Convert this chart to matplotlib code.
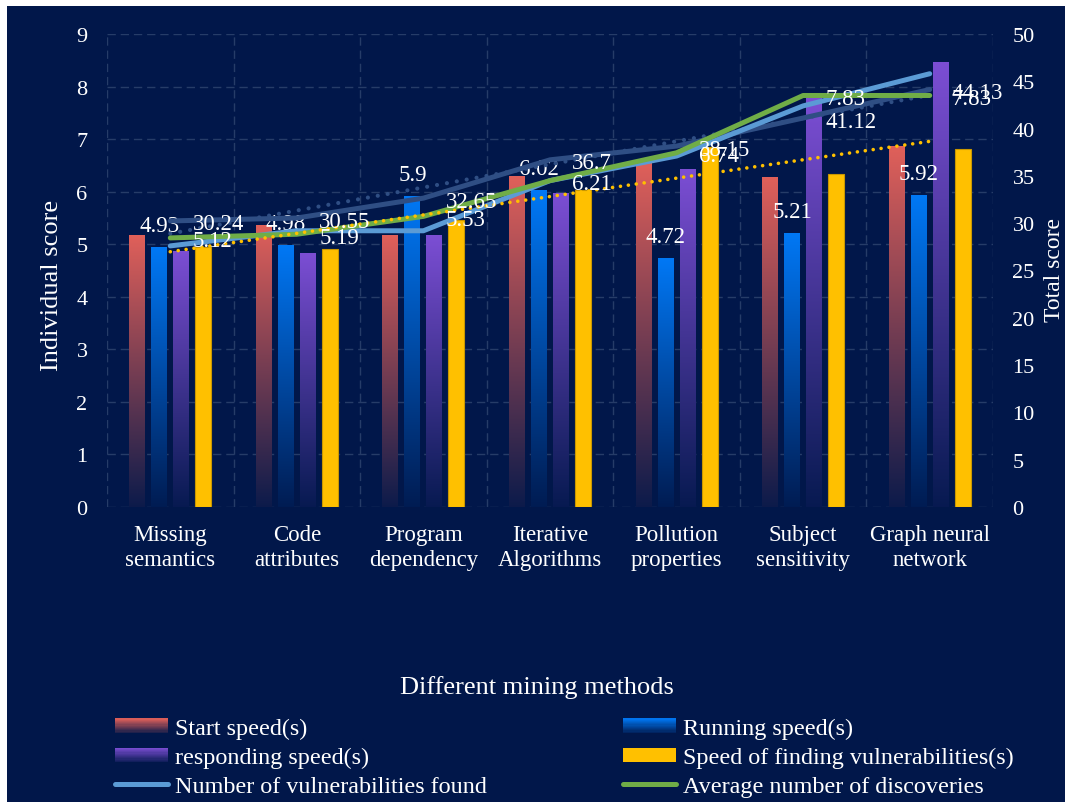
import numpy as np
import matplotlib
matplotlib.use("Agg")
import matplotlib.pyplot as plt
from matplotlib.colors import LinearSegmentedColormap, to_rgb
from matplotlib.legend_handler import HandlerBase
from matplotlib.patches import Rectangle, Patch
from matplotlib.lines import Line2D

plt.rcParams["font.family"] = ["Liberation Serif", "DejaVu Serif"]

categories = ["Missing\nsemantics", "Code\nattributes", "Program\ndependency",
              "Iterative\nAlgorithms", "Pollution\nproperties", "Subject\nsensitivity",
              "Graph neural\nnetwork"]
start_speed = [5.16, 5.36, 5.17, 6.28, 6.56, 6.27, 6.86]
running_speed = [4.93, 4.98, 5.9, 6.02, 4.72, 5.21, 5.92]
responding_speed = [4.86, 4.83, 5.17, 5.96, 6.43, 7.78, 8.45]
finding_speed = [4.95, 4.91, 5.47, 6.03, 6.85, 6.33, 6.81]
# line series: vulnerabilities found and total score use the right axis,
# average number of discoveries uses the left axis
vulns_found = [27.6, 29.2, 29.2, 34.5, 37.1, 42.4, 45.8]
avg_discoveries = [5.12, 5.19, 5.53, 6.21, 6.74, 7.83, 7.83]
total_score = [30.24, 30.55, 32.65, 36.7, 38.15, 41.12, 44.13]

BG = "#01174A"
RED = "#E0605A"
BLUE = "#0078F5"
PURPLE = "#7C4ED4"
YELLOW = "#FFC000"
LIGHT_BLUE = "#5B9BD5"
GREEN = "#70AD47"
DARK = "#2F4E84"
GRID = "#263C68"


def mix(c1, c2, f):
    a, b = np.array(to_rgb(c1)), np.array(to_rgb(c2))
    return tuple(a + (b - a) * f)


class GradientHandler(HandlerBase):
    """Legend box that fades from the series colour to the background."""

    def __init__(self, color, steps=12):
        super().__init__()
        self.color = color
        self.steps = steps

    def create_artists(self, legend, orig_handle, xdescent, ydescent,
                       width, height, fontsize, trans):
        arts = []
        for k in range(self.steps):
            f = (k + 0.5) / self.steps
            c = mix(BG, self.color, 0.1 + 0.9 * f)
            r = Rectangle((-xdescent, -ydescent + height * k / self.steps),
                          width, height / self.steps, facecolor=c,
                          edgecolor="none", antialiased=False, transform=trans)
            arts.append(r)
        return arts


fig = plt.figure(figsize=(10.65, 8.03), dpi=100, facecolor="white")
fig.add_artist(Rectangle((7 / 1065, 0), 1, 1 - 7 / 803, transform=fig.transFigure,
                         facecolor=BG, edgecolor="none", zorder=-10))

ax = fig.add_axes([107 / 1065, 1 - 508 / 803, 886 / 1065, 473 / 803])
ax.set_facecolor("none")
ax2 = ax.twinx()

x = np.arange(len(categories))
width = 0.126
step = 0.174
grad = np.linspace(0, 1, 256).reshape(-1, 1)

bar_series = [(start_speed, RED), (running_speed, BLUE),
              (responding_speed, PURPLE), (finding_speed, YELLOW)]
for i, (vals, col) in enumerate(bar_series):
    pos = x + (i - 1.5) * step
    if col == YELLOW:
        ax.bar(pos, vals, width, color=YELLOW, edgecolor="#C99700", linewidth=0.8, zorder=2)
        continue
    bars = ax.bar(pos, vals, width, color="none", zorder=2)
    cmap = LinearSegmentedColormap.from_list("fade", [mix(BG, col, 0.05), col])
    for rect in bars:
        x0, h = rect.get_x(), rect.get_height()
        ax.imshow(grad, extent=(x0, x0 + rect.get_width(), 0, h), origin="lower",
                  aspect="auto", cmap=cmap, zorder=2, interpolation="bilinear")

# running speed labels
for xi, v in zip(x - 0.5 * step, running_speed):
    ax.annotate(f"{v:g}", (xi, v), xytext=(0, 12), textcoords="offset points",
                ha="center", va="baseline", color="white", fontsize=16.5, zorder=5)

ax.set_xlim(-0.5, len(categories) - 0.5)
ax.set_ylim(0, 9)
ax.set_yticks(np.arange(0, 10, 1))
ax.set_xticks(x)
ax.set_xticklabels(categories, linespacing=1.25)
ax.set_xticks(np.arange(-0.5, len(categories), 1), minor=True)
ax.set_axisbelow(True)
ax.grid(axis="y", which="major", color=GRID, linestyle=(0, (6, 3.5)), linewidth=1)
ax.grid(axis="x", which="minor", color=GRID, linestyle=(0, (6, 3.5)), linewidth=1)
ax.tick_params(axis="x", which="both", length=0, pad=12, labelsize=16.5, colors="white")
ax.tick_params(axis="y", length=0, pad=14, labelsize=16, colors="white")

# line series on the secondary axis
trend_total = np.polyval(np.polyfit(x, total_score, 1), x)
trend_find = np.polyval(np.polyfit(x, finding_speed, 1), x)
ax2.plot(x, trend_total, color=DARK, lw=3.0, linestyle=(0, (0.01, 2.4)),
         dash_capstyle="round", zorder=2)
ax2.plot(x, total_score, color=DARK, lw=3.6, solid_capstyle="round", zorder=2)
ax2.plot(x, vulns_found, color=LIGHT_BLUE, lw=3.6, solid_capstyle="round", zorder=2)
ax2.plot(x, avg_discoveries, color=GREEN, lw=3.6, solid_capstyle="round",
         transform=ax.transData, zorder=2)
ax2.plot(x, trend_find, color=YELLOW, lw=2.6, linestyle=(0, (0.01, 2.2)),
         dash_capstyle="round", transform=ax.transData, zorder=2)

for xi, v in zip(x, total_score):
    ax2.annotate(f"{v:g}", (xi, v), xytext=(16, -2.2), textcoords="offset points",
                 ha="left", va="center", color="white", fontsize=16.5, zorder=5)
for xi, v in zip(x, avg_discoveries):
    ax2.annotate(f"{v:g}", (xi, v), xycoords=ax.transData, xytext=(16, -2.2),
                 textcoords="offset points", ha="left", va="center",
                 color="white", fontsize=16.5, zorder=5)

ax2.set_ylim(0, 50)
ax2.set_yticks(np.arange(0, 55, 5))
ax2.tick_params(axis="y", length=0, pad=14, labelsize=16, colors="white")

for a in (ax, ax2):
    for s in a.spines.values():
        s.set_visible(False)

ax.set_ylabel("Individual score", fontsize=19, color="white")
ax.yaxis.set_label_coords(-0.05, 0.47)
ax2.set_ylabel("Total score", fontsize=17, color="white")
ax2.yaxis.set_label_coords(1.058, 0.503)
fig.text(537 / 1065, 1 - 688 / 803, "Different mining methods", fontsize=19,
         color="white", ha="center", va="center")

# legend, filled row by row
h_start, h_run, h_resp = Patch(), Patch(), Patch()
h_find = Patch(facecolor=YELLOW, edgecolor="none")
h_vuln = Line2D([], [], color=LIGHT_BLUE, lw=3.6, solid_capstyle="round")
h_avg = Line2D([], [], color=GREEN, lw=3.6, solid_capstyle="round")
handles = [h_start, h_resp, h_vuln, h_run, h_find, h_avg]
labels = ["Start speed(s)", "responding speed(s)", "Number of vulnerabilities found",
          "Running speed(s)", "Speed of finding vulnerabilities(s)",
          "Average number of discoveries"]
leg = fig.legend(handles, labels, ncol=2, loc="upper left",
                 bbox_to_anchor=(115 / 1065, 1 - 719 / 803), frameon=False,
                 fontsize=17.4, labelcolor="white", handlelength=2.2,
                 handleheight=0.55, handletextpad=0.3, columnspacing=5.6,
                 labelspacing=0.33, borderpad=0, borderaxespad=0,
                 handler_map={h_start: GradientHandler(RED),
                              h_run: GradientHandler(BLUE),
                              h_resp: GradientHandler(PURPLE)})

fig.savefig("out.png", dpi=100, facecolor=fig.get_facecolor())
